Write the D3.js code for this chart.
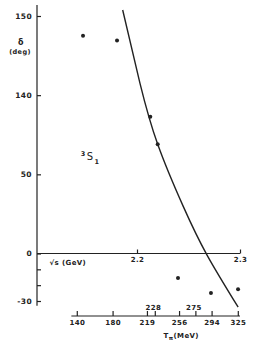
<!DOCTYPE html>
<html>
<head>
<meta charset="utf-8">
<script src="https://cdn.jsdelivr.net/npm/d3@7"></script>
<style>
  body { margin: 0; background: #fff; }
  text { font-family: "DejaVu Sans", sans-serif; font-weight: bold; fill: #222; letter-spacing: 0.4px; }
  .axis path, .axis line { stroke: #222; stroke-width: 1.2; }
</style>
</head>
<body>
<svg id="drawSpace" width="277" height="346"></svg>
<script>
// Global settings
let drawSpaceW = 277
let drawSpaceH = 346
let ink = "#222"

// y axis ticks (the scan labels the 100 tick as "140")
let yTickValues = [150, 100, 50, 0, -10, -20, -30]
let yTickLabels = ["150", "140", "50", "0", "", "", "-30"]

// sqrt(s) axis
let sTickValues = [2.2, 2.3]

// T_pi axis (MeV)
let tLowTicks = [140, 180, 219, 256, 294, 325]
let tHighTicks = [228, 275]

// data points: sqrt(s) in GeV, delta in deg
let ptS = [2.1476, 2.1806, 2.2129, 2.2201, 2.2398, 2.2718, 2.2981]
let ptDelta = [137.5, 134.5, 86.4, 69.0, -15.5, -25.0, -22.5]

// theory curve
let curveS = [2.1861, 2.2029, 2.2201, 2.2450, 2.2680, 2.2981]
let curveDelta = [153.8, 107.5, 69.0, 29.6, -1.0, -33.8]

// pi-d kinematics: T_pi (MeV) -> sqrt(s) (GeV)
let mPi = 0.1396, mD = 1.8756
function sqrtS(t) {
    let tg = t / 1000
    return Math.sqrt((mPi + mD) * (mPi + mD) + 2 * mD * tg)
}

function render(svg) {
    let x = d3.scaleLinear().domain([2.1, 2.3]).range([34, 240])
    let y = d3.scaleLinear().domain([-30, 150]).range([301, 16])

    // left axis
    let yAxis = d3.axisLeft(y)
        .tickValues(yTickValues)
        .tickFormat((d, i) => yTickLabels[i])
        .tickSize(-4)
        .tickPadding(5)
    let gy = svg.append("g").attr("class", "axis")
        .attr("transform", "translate(37,0)")
        .call(yAxis)
    gy.select(".domain").remove()
    gy.append("line")
        .attr("y1", y(157)).attr("y2", y(-33))
        .attr("stroke", ink).attr("stroke-width", 1.3)
    gy.selectAll("text").style("font-size", "7.5px").attr("fill", ink)

    // sqrt(s) axis along delta = 0
    let sAxis = d3.axisBottom(x)
        .tickValues(sTickValues)
        .tickFormat(d3.format(".1f"))
        .tickSize(-4)
        .tickSizeOuter(0)
        .tickPadding(4)
    let gs = svg.append("g").attr("class", "axis")
        .attr("transform", `translate(0,${y(0)})`)
        .call(sAxis)
    gs.select(".domain").remove()
    gs.append("line").attr("x1", 37).attr("x2", x(2.3))
        .attr("stroke", ink).attr("stroke-width", 1.2)
    gs.selectAll("text").style("font-size", "7px").attr("fill", ink)
    svg.append("text")
        .attr("x", x(2.115)).attr("y", y(0) + 11)
        .style("font-size", "7px")
        .text("√s (GeV)")

    // T_pi axis
    let tY = 316
    let tAxis = d3.axisBottom(x)
        .tickValues(tLowTicks.concat(tHighTicks).map(sqrtS))
        .tickFormat(d => {
            let i = tLowTicks.map(sqrtS).indexOf(d)
            return i >= 0 ? tLowTicks[i] : ""
        })
        .tickSize(-5)
        .tickPadding(4)
    let gt = svg.append("g").attr("class", "axis")
        .attr("transform", `translate(0,${tY})`)
        .call(tAxis)
    gt.select(".domain").remove()
    gt.append("line").attr("x1", x(sqrtS(134))).attr("x2", x(2.3))
        .attr("stroke", ink).attr("stroke-width", 1.2)
    gt.selectAll("text").style("font-size", "7px").attr("fill", ink)

    let gt2 = svg.append("g").attr("class", "axis")
        .attr("transform", `translate(-2,${tY - 4})`)
        .call(d3.axisTop(x)
            .tickValues(tHighTicks.map(sqrtS))
            .tickFormat((d, i) => tHighTicks[i])
            .tickSize(0)
            .tickPadding(2))
    gt2.select(".domain").remove()
    gt2.selectAll("text").style("font-size", "7px").attr("fill", ink)

    let tl = svg.append("text")
        .attr("x", x(sqrtS(238))).attr("y", tY + 22)
        .style("font-size", "7px")
    tl.append("tspan").text("T")
    tl.append("tspan").attr("dy", 2).style("font-size", "5.5px").text("π")
    tl.append("tspan").attr("dy", -2).text("(MeV)")

    // y label
    svg.append("text").attr("x", 21).attr("y", 45)
        .attr("text-anchor", "middle").style("font-size", "8px").text("δ")
    svg.append("text").attr("x", 20).attr("y", 54)
        .attr("text-anchor", "middle").style("font-size", "6.5px").text("(deg)")

    // wave label
    let wl = svg.append("text").attr("x", x(2.1455)).attr("y", y(59))
        .style("font-size", "10px").style("font-weight", "normal")
    wl.append("tspan").attr("dy", -4).style("font-size", "6.5px").style("font-weight", "bold").text("3")
    wl.append("tspan").attr("dy", 4).attr("dx", 1).text("S")
    wl.append("tspan").attr("dy", 4).attr("dx", 1).style("font-size", "6.5px").style("font-weight", "bold").text("1")

    // curve
    let line = d3.line()
        .x(d => x(d[0])).y(d => y(d[1]))
        .curve(d3.curveNatural)
    svg.append("path")
        .datum(curveS.map((s, i) => [s, curveDelta[i]]))
        .attr("d", line)
        .attr("fill", "none").attr("stroke", ink).attr("stroke-width", 1.4)

    // points
    svg.selectAll("circle.pt")
        .data(ptS.map((s, i) => [s, ptDelta[i]]))
        .enter()
        .append("circle")
        .attr("class", "pt")
        .attr("cx", d => x(d[0]))
        .attr("cy", d => y(d[1]))
        .attr("r", 2)
        .attr("fill", ink)
}

render(d3.select("#drawSpace"))
</script>
</body>
</html>
